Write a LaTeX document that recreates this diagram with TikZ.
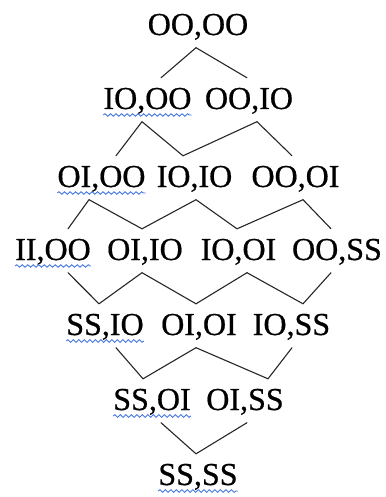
\documentclass[tikz,border=0pt]{standalone}
\usepackage{fontspec}
\setmainfont[FakeBold=0.6]{Liberation Serif}
\usetikzlibrary{decorations.pathmorphing}
\definecolor{squigblue}{RGB}{70,120,225}
\tikzset{
  pair/.style={font=\fontsize{32}{38}\selectfont, anchor=base, inner xsep=0pt,
    inner ysep=10pt, text height=21pt, text depth=2.5pt},
  link/.style={line width=1.1pt, black!85, line cap=round},
  squiggle/.style={squigblue, line width=0.9pt, decorate,
    decoration={snake, amplitude=1.3pt, segment length=5.5pt}}
}
\begin{document}
\begin{tikzpicture}[x=1pt,y=-1pt]
  \useasboundingbox (0,0) rectangle (385,497);
  % rows of the lattice
  \node[pair] (a1) at (198,35) {OO,OO};
  \node[pair] (b1) at (147.5,109) {IO,OO};
  \node[pair] (b2) at (249,109) {OO,IO};
  \node[pair] (c1) at (101.5,187) {OI,OO};
  \node[pair] (c2) at (194.5,187) {IO,IO};
  \node[pair] (c3) at (295.5,187) {OO,OI};
  \node[pair] (d1) at (53,260) {II,OO};
  \node[pair] (d2) at (145,260) {OI,IO};
  \node[pair] (d3) at (238.5,260) {IO,OI};
  \node[pair] (d4) at (337,260) {OO,SS};
  \node[pair] (e1) at (105,335) {SS,IO};
  \node[pair] (e2) at (199,335) {OI,OI};
  \node[pair] (e3) at (291.5,335) {IO,SS};
  \node[pair] (f1) at (152,410) {SS,OI};
  \node[pair] (f2) at (245,410) {OI,SS};
  \node[pair] (g1) at (198,485) {SS,SS};
  % where the lines meet each pair (top / bottom)
  \foreach \n/\t/\b in {a1/0/-2, b1/13.5/-5.5, b2/-2/8, c1/14.5/-12.5, c2/-11.5/1.5,
      c3/-3.5/7.5, d1/15/15, d2/-3/-3, d3/-1.5/8.5, d4/-6/-6, e1/-6/11, e2/-3/-3,
      e3/11.5/0.5, f1/-9/9, f2/23/2, g1/-2/0} {
    \coordinate (\n-t) at ([xshift=\t]\n.north);
    \coordinate (\n-b) at ([xshift=\b]\n.south);
  }
  \foreach \p/\c in {a1/b1, a1/b2, b1/c1, b1/c2, b2/c2, b2/c3,
      c1/d1, c1/d2, c2/d2, c2/d3, c3/d3, c3/d4,
      d1/e1, d2/e1, d2/e2, d3/e2, d3/e3, d4/e3,
      e1/f1, e2/f1, e2/f2, e3/f2, f1/g1, f2/g1}
    \draw[link] (\p-b) -- (\c-t);
  % spell-check marks
  \foreach \n in {b1,c1,d1,e1,f1,g1}
    \draw[squiggle] ([yshift=-6]\n.base west) -- ([yshift=-6]\n.base east);
\end{tikzpicture}
\end{document}
